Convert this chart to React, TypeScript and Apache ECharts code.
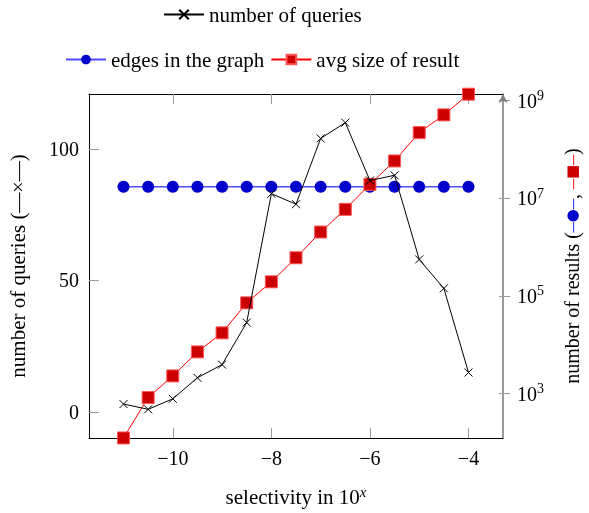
import React, { useEffect, useRef } from "react";
import * as echarts from "echarts";

const xValues = [-11, -10.5, -10, -9.5, -9, -8.5, -8, -7.5, -7, -6.5, -6, -5.5, -5, -4.5, -4];
const queries = [3, 1, 5, 13, 18, 34, 83, 79, 104, 110, 88, 90, 58, 47, 15];
const edges = [17300000, 17300000, 17300000, 17300000, 17300000, 17300000, 17300000, 17300000, 17300000, 17300000, 17300000, 17300000, 17300000, 17300000, 17300000];
const avgSize = [123, 828, 2296, 7130, 17500, 72100, 194500, 605000, 2037000, 5943000, 19360000, 58210000, 221800000, 511700000, 1358000000];
const xTicks = [-10, -8, -6, -4];
const leftTicks = [0, 50, 100];
const rightTickExponents = [3, 5, 7, 9];

const FONT = "Liberation Serif";

export default function App() {
  const ref = useRef<HTMLDivElement>(null);
  useEffect(() => {
    document.body.style.margin = "0";
    const chart = echarts.init(ref.current!, null, { renderer: "svg" });
    const minus = (v: number) => (v < 0 ? "\u2212" + Math.abs(v) : String(v));
    const xMin = -11.7, xMax = -3.3;
    const rMin = 2.089, rMax = 9.137;
    const tickGray = "#999999";
    const option: any = {
      animation: false,
      textStyle: { fontFamily: FONT },
      legend: [
        {
          data: ["number of queries"],
          left: 163,
          top: 4,
          padding: 0,
          itemWidth: 40,
          itemHeight: 12,
          itemGap: 6,
          textStyle: { fontFamily: FONT, fontSize: 21, color: "#000" },
        },
        {
          data: ["edges in the graph", "avg size of result"],
          left: 65,
          top: 49,
          padding: 0,
          itemWidth: 40,
          itemHeight: 12,
          itemGap: 6,
          textStyle: { fontFamily: FONT, fontSize: 21, color: "#000" },
        },
      ],
      grid: { left: 89, right: 86, top: 94, bottom: 75, outerBoundsMode: "none", containLabel: false },
      xAxis: [
        {
          type: "value",
          position: "bottom",
          min: xMin,
          max: xMax,
          splitLine: { show: false },
          axisLine: { show: true, onZero: false, lineStyle: { color: "#000", width: 1 } },
          axisTick: { show: true, inside: true, length: 10, customValues: xTicks, lineStyle: { color: tickGray } },
          axisLabel: {
            customValues: xTicks,
            formatter: (v: number) => minus(v),
            fontFamily: FONT,
            fontSize: 20,
            color: "#000",
            margin: 10,
          },
          name: "selectivity in 10{s|x}",
          nameLocation: "middle",
          nameGap: 46,
          nameTextStyle: {
            fontFamily: FONT,
            fontSize: 21,
            color: "#000",
            rich: { s: { fontFamily: FONT, fontSize: 15, fontStyle: "italic", padding: [0, 0, 10, 0] } },
          },
        },
        {
          type: "value",
          position: "top",
          min: xMin,
          max: xMax,
          splitLine: { show: false },
          axisLine: { show: true, onZero: false, lineStyle: { color: "#000", width: 1 } },
          axisTick: { show: true, inside: true, length: 10, customValues: xTicks, lineStyle: { color: tickGray } },
          axisLabel: { show: false },
        },
      ],
      yAxis: [
        {
          type: "value",
          position: "left",
          min: -9.9,
          max: 120.9,
          splitLine: { show: false },
          axisLine: { show: true, onZero: false, lineStyle: { color: "#000", width: 1 } },
          axisTick: { show: true, inside: true, length: 10, customValues: leftTicks, lineStyle: { color: tickGray } },
          axisLabel: { customValues: leftTicks, fontFamily: FONT, fontSize: 20, color: "#000", margin: 10 },
          name: "number of queries ({k|—×—})",
          nameLocation: "middle",
          nameRotate: 90,
          nameGap: 61,
          nameTextStyle: {
            fontFamily: FONT,
            fontSize: 21,
            color: "#000",
            rich: { k: { fontFamily: FONT, fontSize: 20, color: "#000" } },
          },
        },
        {
          type: "value",
          position: "right",
          min: rMin,
          max: rMax,
          splitLine: { show: false },
          axisLine: {
            show: true,
            onZero: false,
            lineStyle: { color: "#808080", width: 1.6 },
            symbol: ["none", "arrow"],
            symbolSize: [7, 9],
          },
          axisTick: { show: true, inside: true, length: 4, customValues: rightTickExponents, lineStyle: { color: tickGray } },
          axisLabel: {
            customValues: rightTickExponents,
            formatter: (v: number) => "{b|10}{s|" + v + "}",
            margin: 14,
            rich: {
              b: { fontFamily: FONT, fontSize: 20, color: "#000" },
              s: { fontFamily: FONT, fontSize: 14, color: "#000", padding: [0, 0, 10, 0] },
            },
          },
          name: "number of results ({bl|–}{bd|●}{bl|–}, {rd|–}{rs|■}{rd|–})",
          nameLocation: "middle",
          nameRotate: 90,
          nameGap: 59,
          nameTextStyle: {
            fontFamily: FONT,
            fontSize: 20,
            color: "#000",
            rich: {
              bl: { fontFamily: FONT, fontSize: 20, color: "#3333ff" },
              bd: { fontFamily: "DejaVu Sans", fontSize: 15, color: "#0000cc" },
              rd: { fontFamily: FONT, fontSize: 20, color: "#ff2222" },
              rs: { fontFamily: "DejaVu Sans", fontSize: 15, color: "#cc0000" },
            },
          },
        },
        {
          type: "value",
          position: "right",
          min: rMin,
          max: rMax,
          splitLine: { show: false },
          axisLine: { show: false },
          axisTick: { show: true, inside: false, length: 7, customValues: rightTickExponents, lineStyle: { color: tickGray } },
          axisLabel: { show: false },
        },
      ],
      series: [
        {
          name: "edges in the graph",
          type: "line",
          xAxisIndex: 0,
          yAxisIndex: 1,
          data: xValues.map((x, i) => [x, Math.log10(edges[i])]),
          symbol: "circle",
          symbolSize: 12,
          lineStyle: { color: "#4d4dff", width: 1.4 },
          itemStyle: { color: "#0000cc", borderWidth: 0 },
          z: 2,
        },
        {
          name: "avg size of result",
          type: "line",
          xAxisIndex: 0,
          yAxisIndex: 1,
          data: xValues.map((x, i) => [x, Math.log10(avgSize[i])]),
          symbol: "rect",
          symbolSize: 12,
          lineStyle: { color: "#ff0000", width: 1 },
          itemStyle: { color: "#cc0000", borderColor: "#ff5555", borderWidth: 1 },
          z: 3,
        },
        {
          name: "number of queries",
          type: "line",
          xAxisIndex: 0,
          yAxisIndex: 0,
          data: xValues.map((x, i) => [x, queries[i]]),
          symbol: "path://M0,0L10,10M0,10L10,0",
          symbolSize: 8,
          lineStyle: { color: "#000", width: 1 },
          itemStyle: { color: "#000", borderColor: "#000", borderWidth: 1 },
          z: 4,
        },
      ],
    };
    chart.setOption(option);
    return () => chart.dispose();
  }, []);
  return <div ref={ref} style={{ position: "fixed", left: 0, top: 0, width: 589, height: 513 }} />;
}
